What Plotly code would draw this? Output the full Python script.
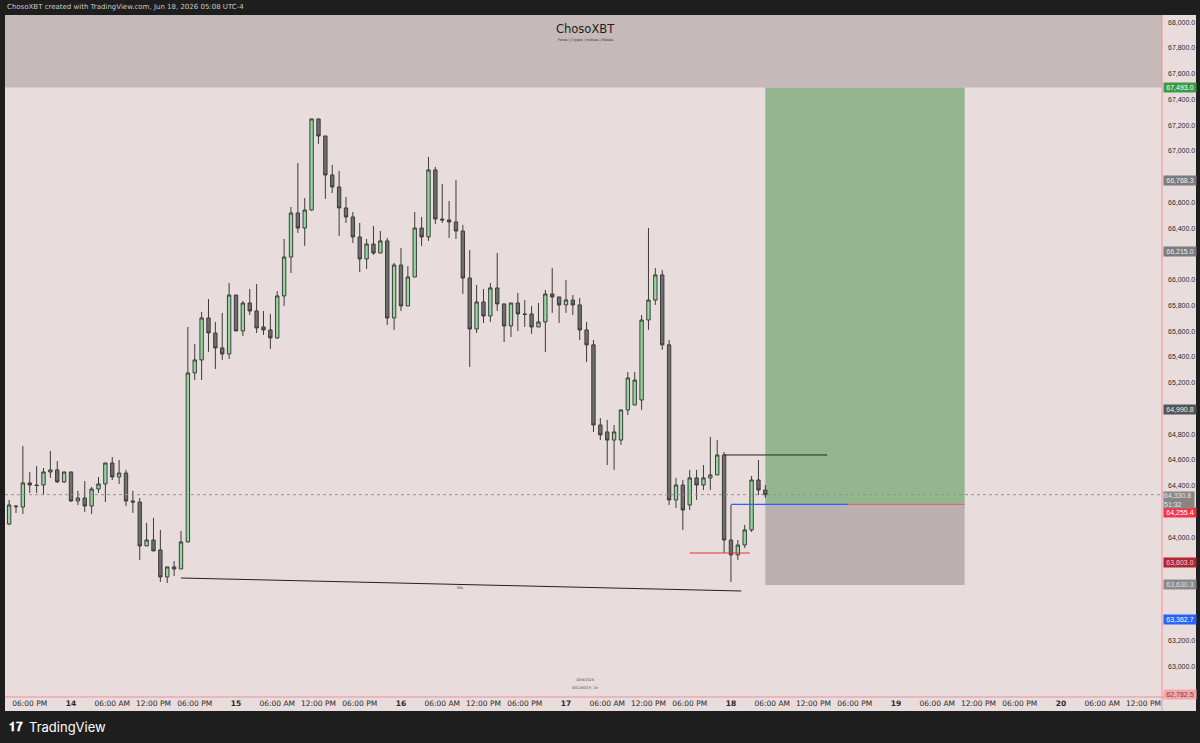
import plotly.graph_objects as go
import pandas as pd

# ---------------- data (BTCUSDT.P, 1h candles) ----------------
start_time = "2026-06-13 15:00"
opens = [64103, 64243, 64235, 64422, 64406, 64406, 64507, 64523, 64430, 64507,
         64282, 64305, 64243, 64375, 64414, 64577, 64468, 64499, 64282, 64274,
         63933, 63979, 63902, 63692, 63770, 63754, 63964, 65276, 65377, 65703,
         65586, 65470, 65423, 65881, 65602, 65819, 65757, 65633, 65610, 65548,
         65874, 66176, 66518, 66401, 66541, 67248, 67116, 66813, 66720, 66557,
         66487, 66332, 66161, 66277, 66207, 66301, 65703, 66114, 65796, 66021,
         66401, 66332, 66852, 66471, 66464, 66448, 66378, 66013, 65617, 65827,
         65718, 65936, 65812, 65641, 65819, 65734, 65734, 65633, 65672, 65889,
         65866, 65804, 65842, 65804, 65610, 65494, 64872, 64818, 64755, 64755,
         64989, 65027, 65066, 65687, 65842, 66037, 65494, 64290, 64406, 64251,
         64461, 64406, 64461, 64484, 64639, 63979, 63863, 63940, 64057, 64445,
         64367]
highs = [64290, 64248, 64709, 64507, 64554, 64538, 64670, 64592, 64510, 64511,
         64360, 64437, 64391, 64468, 64577, 64623, 64600, 64523, 64360, 64305,
         64111, 64150, 64057, 63770, 63816, 64049, 65633, 65501, 65749, 65850,
         65672, 65742, 65974, 65881, 65835, 65928, 65967, 65757, 65734, 65912,
         66316, 66564, 66906, 66634, 67250, 67250, 67116, 66891, 66844, 66642,
         66526, 66440, 66316, 66417, 66378, 66324, 66130, 66246, 66106, 66526,
         66487, 66953, 66875, 66743, 66611, 66774, 66425, 66231, 65959, 65928,
         65974, 66207, 65812, 65819, 65897, 65842, 65796, 65819, 65920, 66091,
         65866, 65998, 65881, 65858, 65672, 65532, 64926, 64911, 64872, 64989,
         65284, 65284, 65726, 66402, 66091, 66075, 65532, 64461, 64445, 64523,
         64523, 64561, 64779, 64755, 64662, 64251, 63979, 64096, 64476, 64600,
         64406]
lows = [64095, 64189, 64181, 64344, 64344, 64328, 64461, 64422, 64422, 64274,
        64251, 64197, 64181, 64344, 64274, 64445, 64414, 64243, 64189, 63823,
        63933, 63894, 63653, 63645, 63700, 63754, 63960, 65221, 65221, 65439,
        65307, 65377, 65384, 65602, 65563, 65726, 65586, 65571, 65462, 65540,
        65796, 66052, 66363, 66262, 66535, 67054, 66627, 66673, 66339, 66440,
        66285, 66060, 66083, 66192, 66207, 65648, 65610, 65757, 65796, 66021,
        66262, 66301, 66433, 66440, 66324, 66316, 65889, 65322, 65586, 65664,
        65672, 65757, 65516, 65555, 65602, 65633, 65579, 65633, 65439, 65742,
        65664, 65742, 65726, 65532, 65361, 64818, 64755, 64561, 64523, 64717,
        64950, 65027, 64989, 65610, 65804, 65455, 64251, 64228, 64057, 64212,
        64290, 64367, 64367, 64484, 63878, 63653, 63824, 63917, 64041, 64328,
        64305]
closes = [64251, 64238, 64422, 64406, 64402, 64507, 64523, 64430, 64507, 64282,
          64305, 64243, 64375, 64414, 64577, 64468, 64499, 64282, 64274, 63933,
          63979, 63894, 63692, 63770, 63754, 63964, 65276, 65377, 65703, 65586,
          65470, 65423, 65881, 65602, 65819, 65757, 65625, 65610, 65548, 65874,
          66176, 66518, 66401, 66541, 67248, 67116, 66813, 66720, 66557, 66487,
          66332, 66161, 66277, 66207, 66301, 65703, 66114, 65796, 66021, 66401,
          66332, 66852, 66471, 66464, 66448, 66378, 66013, 65617, 65827, 65718,
          65936, 65812, 65641, 65819, 65734, 65730, 65633, 65672, 65889, 65866,
          65804, 65843, 65804, 65610, 65494, 64872, 64795, 64755, 64818, 64989,
          65237, 65221, 65687, 65842, 66037, 65494, 64290, 64406, 64212, 64461,
          64406, 64461, 64484, 64639, 63979, 63863, 63940, 64057, 64445, 64367,
          64330.8]

# trade / drawing levels
target_price = 67493.0
entry_price = 64255.4
stop_price = 63630.3
last_price = 64330.8
black_level = 64639
red_level = 63878
trend_prices = [63684, 63583]
trend_times = ["2026-06-14 16:00", "2026-06-18 01:30"]

# (price, background, text colour, vertical nudge in px to avoid stacking)
axis_labels = [
    (67493.0, "#3d9a40", "white", 0),
    (66768.3, "#7d7b7b", "#eeeeee", 0),
    (66215.0, "#7d7b7b", "#eeeeee", 0),
    (64990.8, "#555555", "#eeeeee", 0),
    (64255.4, "#f23645", "white", -8),
    (63803.0, "#b3262f", "#f0d0d0", 0),
    (63630.3, "#8d8787", "#e0e0e0", 0),
    (63362.7, "#2962ff", "white", 0),
    (62782.5, "#f6a4ad", "#6a4a4a", 0),
]

tick_times = ["2026-06-13 18:00", "2026-06-14 00:00", "2026-06-14 06:00", "2026-06-14 12:00",
              "2026-06-14 18:00", "2026-06-15 00:00", "2026-06-15 06:00", "2026-06-15 12:00",
              "2026-06-15 18:00", "2026-06-16 00:00", "2026-06-16 06:00", "2026-06-16 12:00",
              "2026-06-16 18:00", "2026-06-17 00:00", "2026-06-17 06:00", "2026-06-17 12:00",
              "2026-06-17 18:00", "2026-06-18 00:00", "2026-06-18 06:00", "2026-06-18 12:00",
              "2026-06-18 18:00", "2026-06-19 00:00", "2026-06-19 06:00", "2026-06-19 12:00",
              "2026-06-19 18:00", "2026-06-20 00:00", "2026-06-20 06:00", "2026-06-20 12:00"]
tick_text = ["06:00 PM", "<b>14</b>", "06:00 AM", "12:00 PM",
             "06:00 PM", "<b>15</b>", "06:00 AM", "12:00 PM",
             "06:00 PM", "<b>16</b>", "06:00 AM", "12:00 PM",
             "06:00 PM", "<b>17</b>", "06:00 AM", "12:00 PM",
             "06:00 PM", "<b>18</b>", "06:00 AM", "12:00 PM",
             "06:00 PM", "<b>19</b>", "06:00 AM", "12:00 PM",
             "06:00 PM", "<b>20</b>", "06:00 AM", "12:00 PM"]

# price ticks every 200 (those hidden behind coloured labels are left out)
y_ticks = [63000, 63200, 64000, 64400, 64600, 64800, 65200, 65400, 65600, 65800,
           66000, 66400, 66600, 67000, 67200, 67400, 67600, 67800, 68000]

times = pd.date_range(start_time, periods=len(opens), freq="h")

# ---------------- figure ----------------
PINK = "#e8dcdc"
fig = go.Figure()
fig.add_trace(go.Candlestick(
    x=times, open=opens, high=highs, low=lows, close=closes,
    increasing=dict(line=dict(color="#3c3c3c", width=1), fillcolor="#93d99e"),
    decreasing=dict(line=dict(color="#3c3c3c", width=1), fillcolor="#6e6e6e"),
    whiskerwidth=0, showlegend=False, hoverinfo="skip",
))

x_left = "2026-06-13 14:24"
x_right = "2026-06-20 14:42"
y_bottom, y_top = 62760, 68055

shapes = []
# top band
shapes.append(dict(type="rect", xref="paper", yref="y", x0=0, x1=1, y0=target_price, y1=y_top,
                   fillcolor="#c5b9b9", line_width=0, layer="below"))
# position tool boxes
box_x0, box_x1 = "2026-06-18 05:00", "2026-06-19 10:00"
shapes.append(dict(type="rect", xref="x", yref="y", x0=box_x0, x1=box_x1, y0=entry_price, y1=target_price,
                   fillcolor="#94b68e", line_width=0, layer="below"))
shapes.append(dict(type="rect", xref="x", yref="y", x0=box_x0, x1=box_x1, y0=stop_price, y1=entry_price,
                   fillcolor="#bab0b0", line_width=0, layer="below"))
shapes.append(dict(type="line", xref="x", yref="y", x0="2026-06-18 17:00", x1=box_x1, y0=entry_price, y1=entry_price,
                   line=dict(color="#e06070", width=1)))
# blue entry line
shapes.append(dict(type="line", xref="x", yref="y", x0="2026-06-18 00:00", x1="2026-06-18 17:00",
                   y0=entry_price, y1=entry_price, line=dict(color="#2962ff", width=1.3)))
# black level
shapes.append(dict(type="line", xref="x", yref="y", x0="2026-06-17 23:00", x1="2026-06-18 14:00",
                   y0=black_level, y1=black_level, line=dict(color="#222222", width=1)))
# red level
shapes.append(dict(type="line", xref="x", yref="y", x0="2026-06-17 18:00", x1="2026-06-18 02:45",
                   y0=red_level, y1=red_level, line=dict(color="#e0303e", width=1)))
# trend line
shapes.append(dict(type="line", xref="x", yref="y", x0=trend_times[0], x1=trend_times[1],
                   y0=trend_prices[0], y1=trend_prices[1], line=dict(color="#222222", width=1)))
# last price dotted
shapes.append(dict(type="line", xref="paper", yref="y", x0=0, x1=1, y0=last_price, y1=last_price,
                   line=dict(color="#9a9090", width=1, dash="dot")))
# axis areas (paper)
pw, ph = 1157.0, 682.0
shapes.append(dict(type="rect", xref="paper", yref="paper", x0=1, x1=1 + 34 / pw, y0=-14 / ph, y1=1,
                   fillcolor=PINK, line_width=0, layer="below"))
shapes.append(dict(type="rect", xref="paper", yref="paper", x0=0, x1=1, y0=-14 / ph, y1=0,
                   fillcolor=PINK, line_width=0, layer="below"))
shapes.append(dict(type="line", xref="paper", yref="paper", x0=1, x1=1, y0=-14 / ph, y1=1,
                   line=dict(color="#ef8f9c", width=1)))
shapes.append(dict(type="line", xref="paper", yref="paper", x0=0, x1=1 + 34 / pw, y0=0, y1=0,
                   line=dict(color="#ef8f9c", width=1)))

LBL_FONT = "Liberation Sans"
annotations = []
for price, bg, fg, nudge in axis_labels:
    annotations.append(dict(x=1, xref="paper", xanchor="left", xshift=1, y=price, yref="y", yanchor="middle",
                            yshift=nudge, text=f"{price:,.1f}", showarrow=False, bgcolor=bg,
                            font=dict(family=LBL_FONT, size=7, color=fg), borderpad=1, width=30))
annotations.append(dict(x=1, xref="paper", xanchor="left", xshift=1, y=last_price, yref="y", yanchor="top",
                        yshift=4, text=f"{last_price:,.1f}<br>51:32", showarrow=False, bgcolor="#8a8484",
                        font=dict(family=LBL_FONT, size=7, color="#e6e6e6"), borderpad=0, width=30,
                        align="left"))


def px_y(ypix):
    return 1 - (ypix - 15) / ph


def px_x(xpix):
    return (xpix - 5) / pw


# header texts
annotations.append(dict(x=px_x(5), xref="paper", xanchor="left", y=px_y(7), yref="paper", yanchor="middle",
                        text="ChosoXBT created with TradingView.com, Jun 18, 2026 05:08 UTC-4", showarrow=False,
                        font=dict(family="DejaVu Sans", size=7, color="#c9c9c9")))
annotations.append(dict(x=px_x(585), xref="paper", xanchor="center", y=px_y(29), yref="paper", yanchor="middle",
                        text="ChosoXBT", showarrow=False, font=dict(family="DejaVu Sans", size=11.5, color="#1e1e1e")))
annotations.append(dict(x=px_x(585), xref="paper", xanchor="center", y=px_y(40), yref="paper", yanchor="middle",
                        text="Forex | Crypto | Indices | Metals", showarrow=False,
                        font=dict(family="DejaVu Sans", size=3.5, color="#333333")))
annotations.append(dict(x=px_x(585), xref="paper", xanchor="center", y=px_y(680), yref="paper", yanchor="middle",
                        text="18/6/2026", showarrow=False,
                        font=dict(family="DejaVu Sans", size=3.5, color="#444444")))
annotations.append(dict(x=px_x(585), xref="paper", xanchor="center", y=px_y(688), yref="paper", yanchor="middle",
                        text="BTCUSDT.P, 1h", showarrow=False,
                        font=dict(family="DejaVu Sans", size=3.5, color="#444444")))
annotations.append(dict(x=px_x(460), xref="paper", xanchor="center", y=px_y(588), yref="paper", yanchor="middle",
                        text="SSL", showarrow=False,
                        font=dict(family="DejaVu Sans", size=3.5, color="#333333")))
# bottom logo
annotations.append(dict(x=px_x(7), xref="paper", xanchor="left", y=px_y(727), yref="paper",
                        yanchor="middle", text="<b>𝟏𝟕</b>", showarrow=False,
                        font=dict(family="DejaVu Sans", size=12, color="white")))
annotations.append(dict(x=px_x(27), xref="paper", xanchor="left", y=px_y(727), yref="paper",
                        yanchor="middle", text="TradingView", showarrow=False,
                        font=dict(family="Inter", size=13, color="white")))

fig.update_layout(
    width=1200, height=743,
    margin=dict(l=5, r=38, t=15, b=46),
    paper_bgcolor="#1e1e1e", plot_bgcolor=PINK,
    shapes=shapes, annotations=annotations,
    xaxis=dict(range=[x_left, x_right], rangeslider=dict(visible=False), showgrid=False, zeroline=False,
               tickvals=tick_times, ticktext=tick_text, ticks="",
               tickfont=dict(family="DejaVu Sans", size=7.5, color="#2a2a2a"),
               showline=False, fixedrange=True),
    yaxis=dict(range=[y_bottom, y_top], side="right", showgrid=False, zeroline=False,
               tickvals=y_ticks, tickformat=",.1f", ticks="", ticklabelstandoff=5,
               tickfont=dict(family=LBL_FONT, size=7, color="#2a2a2a"), showline=False),
    showlegend=False,
)

fig.write_html("out.html")
